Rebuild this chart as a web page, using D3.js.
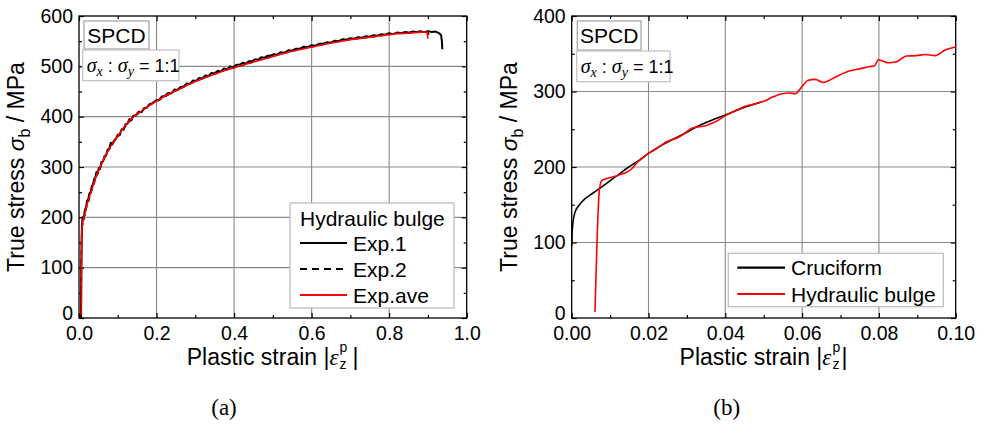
<!DOCTYPE html>
<html><head><meta charset="utf-8">
<script src="https://cdn.jsdelivr.net/npm/d3@7/dist/d3.min.js"></script>
<style>
html,body{margin:0;padding:0;background:#fff;}
svg{display:block;font-family:"Liberation Sans",Arial,sans-serif;}
</style></head><body>
<svg id="chart" width="989" height="425"></svg>
<script>
// ---------- DATA ----------
// Panel (a): hydraulic bulge, strain vs true stress (MPa)
const exp1 = [[0.005,2],[0.0055,40],[0.006,110],[0.007,165],[0.008,186],[0.009,200],[0.012,196],[0.015,214],[0.018,219],[0.021,233],[0.024,236],[0.027,248],[0.030,250],[0.033,262],[0.036,265],[0.039,276],[0.042,278],[0.045,290],[0.048,287],[0.051,298],[0.054,296],[0.058,310],[0.062,311],[0.066,322],[0.070,323],[0.074,335],[0.078,336],[0.082,348],[0.086,345],[0.090,352],[0.095,356],[0.100,364],[0.105,363],[0.110,375],[0.115,374],[0.120,385],[0.125,386],[0.130,395],[0.135,393],[0.140,402],[0.147,403],[0.154,410],[0.161,409],[0.168,417],[0.175,418],[0.182,425],[0.190,427],[0.198,432],[0.206,433],[0.214,440],[0.222,441],[0.230,447],[0.238,446],[0.246,454],[0.254,453],[0.262,459],[0.270,460],[0.278,466],[0.286,465],[0.294,472],[0.302,471],[0.310,477],[0.318,476],[0.326,482],[0.334,481],[0.342,487],[0.350,486],[0.358,491],[0.366,490],[0.374,496],[0.382,494],[0.390,500],[0.398,498],[0.406,503],[0.414,503],[0.422,507],[0.430,505],[0.438,510],[0.446,510],[0.454,514],[0.462,513],[0.470,518],[0.478,517],[0.486,521],[0.494,521],[0.502,524],[0.510,523],[0.520,528],[0.530,527],[0.540,532],[0.550,531],[0.560,535],[0.570,535],[0.580,539],[0.590,538],[0.600,542],[0.610,541],[0.620,545],[0.630,545],[0.640,548],[0.650,547],[0.660,551],[0.670,550],[0.680,554],[0.690,553],[0.700,556],[0.710,555],[0.720,558],[0.730,557],[0.740,560],[0.750,559],[0.760,562],[0.770,561],[0.780,564],[0.790,563],[0.800,566],[0.810,564],[0.820,567],[0.830,566],[0.840,568],[0.850,567],[0.860,569],[0.870,568],[0.880,570],[0.890,568],[0.900,570],[0.910,568],[0.920,569],[0.928,566],[0.934,562],[0.936,550],[0.937,534]];
const exp2 = [[0.005,0],[0.006,80],[0.0065,150],[0.0075,178],[0.009,184],[0.012,198],[0.016,206],[0.02,222],[0.025,232],[0.03,247],[0.035,258],[0.04,270],[0.046,283],[0.052,293],[0.058,305],[0.065,316],[0.072,328],[0.08,338],[0.09,350],[0.1,360],[0.11,371],[0.12,381],[0.13,390],[0.14,398],[0.155,407],[0.17,416],[0.185,424],[0.2,430],[0.22,439],[0.24,448],[0.26,455],[0.28,463],[0.3,470],[0.32,476],[0.34,482],[0.36,488],[0.38,493],[0.4,497],[0.43,504],[0.46,511],[0.49,518],[0.52,524],[0.55,530],[0.58,536],[0.61,540],[0.64,545],[0.67,550],[0.7,553],[0.73,556],[0.76,559],[0.79,562],[0.82,565],[0.85,566],[0.88,568],[0.9,567],[0.905,560]];
const expAve = [[0.006,5],[0.0065,100],[0.007,160],[0.008,183],[0.01,192],[0.013,200],[0.016,210],[0.02,224],[0.025,236],[0.03,249],[0.035,260],[0.04,272],[0.046,285],[0.052,295],[0.058,306],[0.065,318],[0.072,329],[0.08,339],[0.09,351],[0.1,361],[0.11,373],[0.12,383],[0.13,392],[0.14,399],[0.155,408],[0.17,416],[0.185,424],[0.2,431],[0.22,440],[0.24,448],[0.26,455],[0.28,463],[0.3,470],[0.32,476],[0.34,482],[0.36,487],[0.38,493],[0.4,497],[0.43,504],[0.46,511],[0.49,517],[0.52,524],[0.55,530],[0.58,535],[0.61,540],[0.64,545],[0.67,549],[0.7,553],[0.73,556],[0.76,559],[0.79,562],[0.82,565],[0.85,566],[0.88,568],[0.898,568],[0.9,555]];
// Panel (b): cruciform vs hydraulic bulge
const cruciform = [[0,95],[0.0001,112],[0.0003,125],[0.0006,135],[0.001,142],[0.0017,148],[0.0025,153],[0.0035,158],[0.0048,163],[0.006,167],[0.0074,172],[0.009,178],[0.0108,185],[0.0125,191],[0.0143,198],[0.017,207],[0.02,218],[0.0235,229],[0.0265,237],[0.03,246],[0.0317,251],[0.035,259],[0.04,269],[0.0456,280],[0.0495,286.5]];
const bulge = [[0.00607,8],[0.0072,169],[0.0078,182],[0.0087,184],[0.0100,186],[0.0108,187],[0.0126,190],[0.0143,193],[0.0155,197],[0.0169,205],[0.0185,212],[0.0200,218],[0.0220,224],[0.0239,231],[0.0255,235],[0.0273,238],[0.0290,243],[0.0312,251],[0.0325,253],[0.0343,254],[0.0360,257],[0.0378,261],[0.0404,269],[0.043,275.5],[0.0456,281],[0.0482,284],[0.0500,287],[0.0525,293],[0.0547,297],[0.0568,298],[0.0582,297],[0.0599,306],[0.0616,315],[0.0634,316],[0.0655,312],[0.0681,317.5],[0.0707,324],[0.0725,327.5],[0.075,330],[0.0777,333],[0.0789,334],[0.0798,342],[0.0812,340],[0.0824,338],[0.0846,339.5],[0.0872,347],[0.0898,347.5],[0.092,349],[0.0946,347.5],[0.0972,355],[0.1,359]];

const xTicksA = [0,0.2,0.4,0.6,0.8,1.0];
const xMinorA = [0.1,0.3,0.5,0.7,0.9];
const yTicksA = [0,100,200,300,400,500,600];
const yMinorA = [50,150,250,350,450,550];
const xTicksB = [0,0.02,0.04,0.06,0.08,0.1];
const xMinorB = [0.01,0.03,0.05,0.07,0.09];
const yTicksB = [0,100,200,300,400];
const yMinorB = [50,150,250,350];

const legendA = ["Exp.1","Exp.2","Exp.ave"];
const legendB = ["Cruciform","Hydraulic bulge"];

// ---------- DRAW ----------
const svg = d3.select("#chart");
const SANS = '"Liberation Sans",Arial,sans-serif';
const SERIF = '"Liberation Serif","Times New Roman",serif';

function panel(o){
  const g = svg.append("g");
  const x = d3.scaleLinear().domain(o.xDom).range([o.left,o.right]);
  const y = d3.scaleLinear().domain(o.yDom).range([o.bottom,o.top]);
  // grid
  g.append("g").selectAll("line").data(o.xTicks.slice(1,-1)).join("line")
    .attr("x1",d=>x(d)).attr("x2",d=>x(d)).attr("y1",o.top).attr("y2",o.bottom)
    .attr("stroke","#8a8a8a").attr("stroke-width",1.1);
  g.append("g").selectAll("line").data(o.yTicks.slice(1,-1)).join("line")
    .attr("y1",d=>y(d)).attr("y2",d=>y(d)).attr("x1",o.left).attr("x2",o.right)
    .attr("stroke","#8a8a8a").attr("stroke-width",1.1);
  // axes
  const styleAxis = sel => { sel.select(".domain").remove(); sel.selectAll("line").attr("stroke","#000").attr("stroke-width",1.2); sel.selectAll("text").attr("font-family",SANS).attr("font-size",19.5).attr("fill","#000"); };
  g.append("g").attr("transform",`translate(0,${o.bottom})`).call(d3.axisBottom(x).tickValues(o.xTicks).tickFormat(o.xFmt).tickSize(-5).tickPadding(8)).call(styleAxis);
  g.append("g").attr("transform",`translate(0,${o.bottom})`).call(d3.axisBottom(x).tickValues(o.xMinor).tickFormat("").tickSize(-3)).call(styleAxis);
  g.append("g").attr("transform",`translate(0,${o.top})`).call(d3.axisTop(x).tickValues(o.xTicks).tickFormat("").tickSize(-5)).call(styleAxis);
  g.append("g").attr("transform",`translate(0,${o.top})`).call(d3.axisTop(x).tickValues(o.xMinor).tickFormat("").tickSize(-3)).call(styleAxis);
  const yAx = g.append("g").attr("transform",`translate(${o.left},0)`).call(d3.axisLeft(y).tickValues(o.yTicks).tickFormat(d3.format("d")).tickSize(-5).tickPadding(6)).call(styleAxis);
  // the "0" label sits just above the x labels, as in the reference
  yAx.selectAll(".tick text").filter(d=>d===0).attr("dy","0.1em");
  g.append("g").attr("transform",`translate(${o.left},0)`).call(d3.axisLeft(y).tickValues(o.yMinor).tickFormat("").tickSize(-3)).call(styleAxis);
  g.append("g").attr("transform",`translate(${o.right},0)`).call(d3.axisRight(y).tickValues(o.yTicks).tickFormat("").tickSize(-5)).call(styleAxis);
  g.append("g").attr("transform",`translate(${o.right},0)`).call(d3.axisRight(y).tickValues(o.yMinor).tickFormat("").tickSize(-3)).call(styleAxis);
  g.append("rect").attr("x",o.left).attr("y",o.top).attr("width",o.right-o.left).attr("height",o.bottom-o.top)
    .attr("fill","none").attr("stroke","#000").attr("stroke-width",1.3);
  // curves
  o.series.forEach(s=>{
    g.append("path").datum(s.data)
      .attr("d", d3.line().x(d=>x(d[0])).y(d=>y(d[1])).curve(s.curve||d3.curveLinear))
      .attr("fill","none").attr("stroke",s.color).attr("stroke-width",s.width||1.6)
      .attr("stroke-dasharray",s.dash||null).attr("stroke-linejoin","round");
  });
  // x axis title
  const cx = (o.left+o.right)/2, by = 365;
  const xt = g.append("text").attr("y",by).attr("font-family",SANS).attr("font-size",23).attr("fill","#000");
  xt.append("tspan").text("Plastic strain |");
  xt.append("tspan").attr("font-family",SERIF).attr("font-style","italic").text("ε");
  const wMain = xt.node().getComputedTextLength();
  const supW = 9, barW = 6.4;
  const total = wMain + 1 + supW + o.barSpace + barW;
  const x0 = cx - total/2;
  xt.attr("x",x0);
  g.append("text").attr("x",x0+wMain+1).attr("y",by-13).attr("font-family",SANS).attr("font-size",14).attr("fill","#000").text("p");
  g.append("text").attr("x",x0+wMain+1).attr("y",by+4).attr("font-family",SANS).attr("font-size",14).attr("fill","#000").text("z");
  g.append("text").attr("x",x0+wMain+1+supW+o.barSpace).attr("y",by).attr("font-family",SANS).attr("font-size",23).attr("fill","#000").text("|");
  // y axis title
  const yt = g.append("text").attr("transform",`translate(${o.left-55},${(o.top+o.bottom)/2}) rotate(-90)`)
    .attr("text-anchor","middle").attr("font-family",SANS).attr("font-size",23).attr("fill","#000");
  yt.append("tspan").text("True stress ");
  yt.append("tspan").attr("font-style","italic").text("σ");
  yt.append("tspan").attr("font-size",16).attr("dy",6).text("b");
  yt.append("tspan").attr("dy",-6).text(" / MPa");
  // label boxes
  g.append("rect").attr("x",o.spcd[0]).attr("y",o.spcd[1]).attr("width",o.spcd[2]).attr("height",o.spcd[3])
    .attr("fill","#fff").attr("stroke","#a8a8a8").attr("stroke-width",1.3);
  g.append("text").attr("x",o.spcd[0]+o.spcd[2]/2).attr("y",o.spcd[1]+21.5).attr("text-anchor","middle")
    .attr("font-family",SANS).attr("font-size",21).attr("fill","#000").text("SPCD");
  g.append("rect").attr("x",o.ratio[0]).attr("y",o.ratio[1]).attr("width",o.ratio[2]).attr("height",o.ratio[3])
    .attr("fill","#fff").attr("stroke","#c4c4c4").attr("stroke-width",1.3);
  const rt = g.append("text").attr("x",o.ratio[0]+4).attr("y",o.ratio[1]+21.5)
    .attr("font-family",SANS).attr("font-size",18).attr("fill","#000");
  rt.append("tspan").attr("font-family",SERIF).attr("font-style","italic").attr("font-size",20).text("σ");
  rt.append("tspan").attr("font-family",SERIF).attr("font-style","italic").attr("font-size",14).attr("dy",4).text("x");
  rt.append("tspan").attr("dy",-4).text(" : ");
  rt.append("tspan").attr("font-family",SERIF).attr("font-style","italic").attr("font-size",20).text("σ");
  rt.append("tspan").attr("font-family",SERIF).attr("font-style","italic").attr("font-size",14).attr("dy",4).text("y");
  rt.append("tspan").attr("dy",-4).text(" = 1:1");
  // legend
  const L = o.legend;
  g.append("rect").attr("x",L.box[0]).attr("y",L.box[1]).attr("width",L.box[2]).attr("height",L.box[3])
    .attr("fill","#fff").attr("stroke","#bdbdbd").attr("stroke-width",1.3);
  if(L.title){
    g.append("text").attr("x",L.x0).attr("y",L.titleY+7.5).attr("font-family",SANS).attr("font-size",21).attr("fill","#000").text(L.title);
  }
  L.items.forEach((name,i)=>{
    const s = o.series[L.order[i]], yy = L.y0 + i*L.dy;
    g.append("line").attr("x1",L.x0).attr("x2",L.x1).attr("y1",yy).attr("y2",yy)
      .attr("stroke",s.color).attr("stroke-width",2.2).attr("stroke-dasharray",s.dash?"7,5":null);
    g.append("text").attr("x",L.x1+6).attr("y",yy+7.5).attr("font-family",SANS).attr("font-size",21).attr("fill","#000").text(name);
  });
  // panel label
  g.append("text").attr("x",o.labelX).attr("y",415).attr("text-anchor","middle")
    .attr("font-family",SERIF).attr("font-size",23).attr("fill","#000").text(o.label);
}

panel({
  left:79, right:466.7, top:16, bottom:318,
  xDom:[0,1], yDom:[0,600],
  xTicks:xTicksA, xMinor:xMinorA, yTicks:yTicksA, yMinor:yMinorA,
  xFmt:d3.format(".1f"), barSpace:4,
  series:[
    {data:exp2, color:"#000", dash:"5,4", width:1.5},
    {data:exp1, color:"#000", width:2},
    {data:expAve, color:"#ff0000", width:1.6}
  ],
  spcd:[84,21,65,28], ratio:[82.7,50,96.3,30.7],
  legend:{box:[290,203,164,105], title:"Hydraulic bulge", titleY:218, x0:300, x1:347, y0:243, dy:26, items:legendA, order:[1,0,2]},
  label:"(a)", labelX:224
});

panel({
  left:571.7, right:955.7, top:16, bottom:318,
  xDom:[0,0.1], yDom:[0,400],
  xTicks:xTicksB, xMinor:xMinorB, yTicks:yTicksB, yMinor:yMinorB,
  xFmt:d3.format(".2f"), barSpace:0,
  series:[
    {data:cruciform, color:"#000", width:1.6, curve:d3.curveMonotoneX},
    {data:bulge, color:"#ff0000", width:1.6, curve:d3.curveMonotoneX}
  ],
  spcd:[577.3,21,63.7,29], ratio:[576.7,51,93.3,30.7],
  legend:{box:[728.3,253.3,215,53.4], title:null, x0:737.3, x1:785, y0:267.7, dy:26.3, items:legendB, order:[0,1]},
  label:"(b)", labelX:726.7
});
</script>
</body></html>
